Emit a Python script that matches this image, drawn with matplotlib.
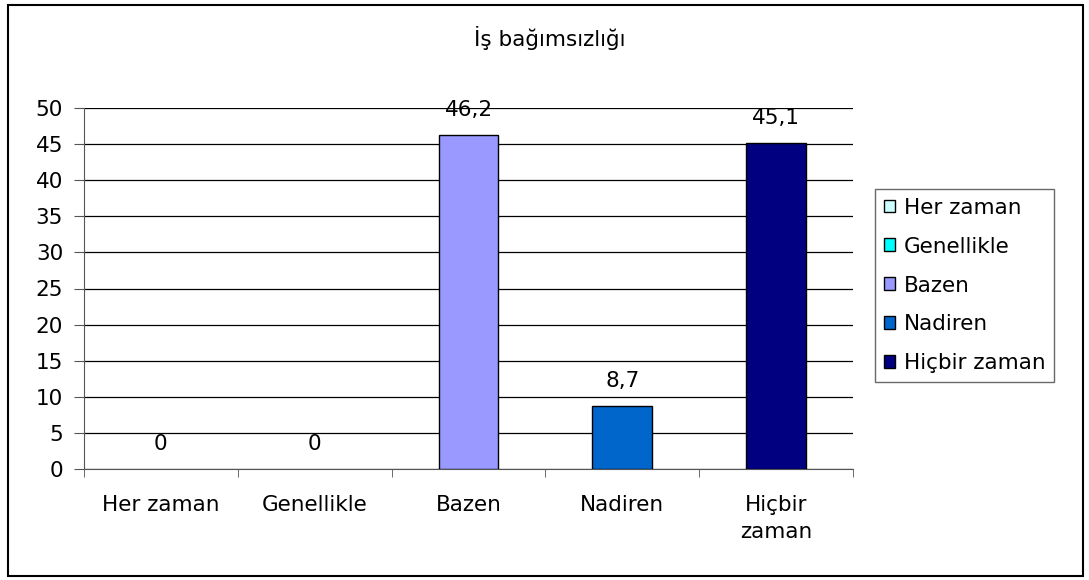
import matplotlib.pyplot as plt
import matplotlib.patches as patches
import numpy as np

categories = ["Her zaman", "Genellikle", "Bazen", "Nadiren", "Hiçbir zaman"]
tick_labels = ["Her zaman", "Genellikle", "Bazen", "Nadiren", "Hiçbir\nzaman"]
values = [0, 0, 46.2, 8.7, 45.1]
value_labels = ["0", "0", "46,2", "8,7", "45,1"]
colours = ["#CCFFFF", "#00FFFF", "#9999FF", "#0066CC", "#000080"]
title = "İş bağımsızlığı"

plt.rcParams["font.family"] = ["DejaVu Sans"]
FS = 15.5

fig = plt.figure(figsize=(10.89, 5.80), dpi=100)
ax = fig.add_axes([84 / 1089, 111 / 580, 769 / 1089, 361 / 580])

# figure border
fig.add_artist(patches.Rectangle((8 / 1089, 4 / 580), 1075 / 1089, 571 / 580,
                                 transform=fig.transFigure, fill=False,
                                 edgecolor="black", linewidth=1.5))

x = np.arange(len(categories))
handles = []
for i, (cat, v, c) in enumerate(zip(categories, values, colours)):
    ax.bar(x[i], v, width=0.39, color=c, edgecolor="black",
           linewidth=1.0 if v > 0 else 0, zorder=3)
    ax.annotate(value_labels[i], (x[i], v), xytext=(0, 11),
                textcoords="offset points", ha="center", va="bottom",
                fontsize=FS)
    handles.append(patches.Patch(facecolor=c, edgecolor="black",
                                 linewidth=1.0, label=cat))

ax.set_xlim(-0.5, len(categories) - 0.5)
ax.set_ylim(0, 50)
ax.set_yticks(np.arange(0, 51, 5))
ax.yaxis.grid(True, color="black", linewidth=0.9, zorder=0)
ax.set_axisbelow(True)

ax.set_xticks(x)
ax.set_xticklabels(tick_labels, fontsize=FS, linespacing=1.4)
ax.set_xticks(np.arange(-0.5, len(categories), 1), minor=True)
ax.tick_params(axis="x", which="major", length=0, pad=19)
ax.tick_params(axis="x", which="minor", length=6, color="#555555")
ax.tick_params(axis="y", labelsize=FS, length=7, color="#555555", pad=8)

for s in ["top", "right"]:
    ax.spines[s].set_visible(False)
ax.spines["left"].set_color("#555555")
ax.spines["bottom"].set_color("#555555")

fig.text(550 / 1089, 1 - 38 / 580, title, ha="center", va="center", fontsize=FS)

leg = ax.legend(handles=handles, loc="upper left",
                bbox_to_anchor=(875 / 1089, 1 - 189 / 580),
                bbox_transform=fig.transFigure, fontsize=FS, frameon=True,
                fancybox=False, edgecolor="#444444", handlelength=0.55,
                handleheight=0.55, handletextpad=0.4, borderpad=0.4,
                labelspacing=0.88, borderaxespad=0)
leg.get_frame().set_linewidth(1.0)

fig.savefig("out.png", dpi=100)
